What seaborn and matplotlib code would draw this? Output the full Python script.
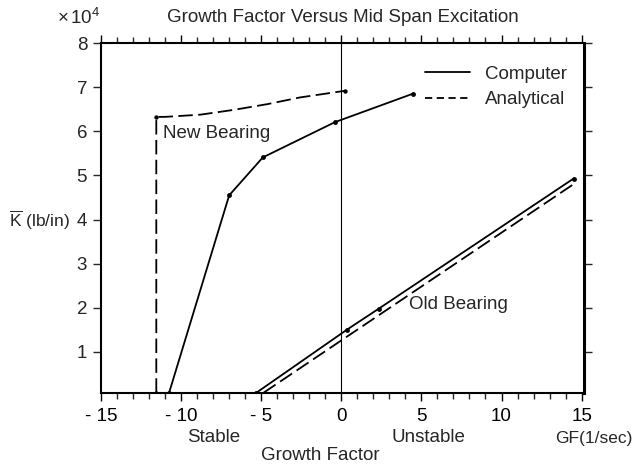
import matplotlib
matplotlib.use("Agg")
import matplotlib.pyplot as plt
from matplotlib.lines import Line2D
from matplotlib.ticker import MultipleLocator
import seaborn as sns

# growth factor (1/sec) and stiffness (x 1e4 lb/in)
new_comp_gf = [-10.75, -7.0, -4.9, -0.4, 4.5]
new_comp_k = [0.07, 4.55, 5.41, 6.21, 6.86]
new_anal_gf = [-11.55, -11.55, -11.0, -8.8, -6.7, -4.6, -2.6, 0.2]
new_anal_k = [0.07, 6.33, 6.33, 6.38, 6.49, 6.62, 6.77, 6.92]
old_comp_gf = [-5.3, 0.35, 2.35, 14.5]
old_comp_k = [0.07, 1.5, 1.98, 4.93]
old_anal_gf = [-4.85, 14.65]
old_anal_k = [0.07, 4.84]

# marked points
new_anal_dots_gf = [-11.55, -11.55, 0.2]
new_anal_dots_k = [0.07, 6.33, 6.92]

xticks = [-15, -10, -5, 0, 5, 10, 15]
xtick_labels = ['- 15', '- 10', '- 5', '0', '5', '10', '15']
yticks = [1, 2, 3, 4, 5, 6, 7, 8]

sns.set_style('ticks')
plt.rcParams['font.family'] = ['Liberation Sans', 'DejaVu Sans']
plt.rcParams['mathtext.fontset'] = 'custom'
plt.rcParams['mathtext.rm'] = 'Liberation Sans'
plt.rcParams['mathtext.it'] = 'Liberation Sans'

fs = 13.5

fig = plt.figure(figsize=(6.37, 4.66), dpi=100)
ax = fig.add_axes([0.1586, 0.1573, 0.7577, 0.7498])

lw = 1.3
dash = (8, 3)
sns.lineplot(x=new_comp_gf, y=new_comp_k, ax=ax, color='black', lw=lw, sort=False,
             estimator=None, marker='o', markersize=3.5, markeredgewidth=0)
sns.lineplot(x=new_anal_gf, y=new_anal_k, ax=ax, color='black', lw=lw, sort=False,
             estimator=None, linestyle=(0, dash))
sns.scatterplot(x=new_anal_dots_gf, y=new_anal_dots_k, ax=ax, color='black', s=10,
                linewidth=0, zorder=5)
sns.lineplot(x=old_comp_gf, y=old_comp_k, ax=ax, color='black', lw=lw, sort=False,
             estimator=None, marker='o', markersize=3.5, markeredgewidth=0)
sns.lineplot(x=old_anal_gf, y=old_anal_k, ax=ax, color='black', lw=lw, sort=False,
             estimator=None, linestyle=(0, dash))

ax.axvline(0, color='black', lw=0.8)

ax.set_xlim(-15, 15.13)
ax.set_ylim(0.07, 8)
ax.set_xticks(xticks)
ax.set_xticklabels(xtick_labels)
ax.xaxis.set_minor_locator(MultipleLocator(1))
ax.set_yticks(yticks)
ax.set_yticklabels([str(v) for v in yticks])

ax.tick_params(axis='x', which='major', direction='out', length=6, width=1,
               top=True, bottom=True, labelsize=fs, pad=5, colors='black')
ax.tick_params(axis='x', which='minor', direction='out', length=4, width=1,
               top=True, bottom=True)
ax.tick_params(axis='y', which='major', direction='out', length=6, width=1,
               left=True, right=True, labelsize=fs, pad=4)

for side in ['left', 'bottom', 'top']:
    ax.spines[side].set_linewidth(1.5)
    ax.spines[side].set_color('black')
ax.spines['right'].set_linewidth(2.2)
ax.spines['right'].set_color('black')
ax.set_xlabel('')
ax.set_ylabel('')

handles = [Line2D([], [], color='black', lw=lw),
           Line2D([], [], color='black', lw=lw, linestyle=(0, (4, 2.5)))]
ax.legend(handles, ['Computer', 'Analytical'], loc='upper right', frameon=False,
          fontsize=fs, handlelength=2.4, labelspacing=0.45, bbox_to_anchor=(1.0, 0.985))

ax.text(-11.15, 5.96, 'New Bearing', fontsize=fs, va='center', ha='left')
ax.text(4.2, 2.08, 'Old Bearing', fontsize=fs, va='center', ha='left')

fig.text(0.5375, 1 - 18 / 466, 'Growth Factor Versus Mid Span Excitation',
         ha='center', va='center', fontsize=fs)
fig.text(57 / 637, 1 - 18 / 466, r'$\times\,10^4$', ha='left', va='center', fontsize=fs)
fig.text(9 / 637, 1 - 220 / 466, r'$\overline{\mathrm{K}}$ (lb/in)', ha='left',
         va='center', fontsize=12.5)
fig.text(214 / 637, 1 - 438 / 466, 'Stable', ha='center', va='center', fontsize=fs)
fig.text(428 / 637, 1 - 438 / 466, 'Unstable', ha='center', va='center', fontsize=fs)
fig.text(320 / 637, 1 - 455 / 466, 'Growth Factor', ha='center', va='center', fontsize=fs)
fig.text(632 / 637, 1 - 438 / 466, 'GF(1/sec)', ha='right', va='center', fontsize=12.5)

fig.savefig('out.png', dpi=100)
